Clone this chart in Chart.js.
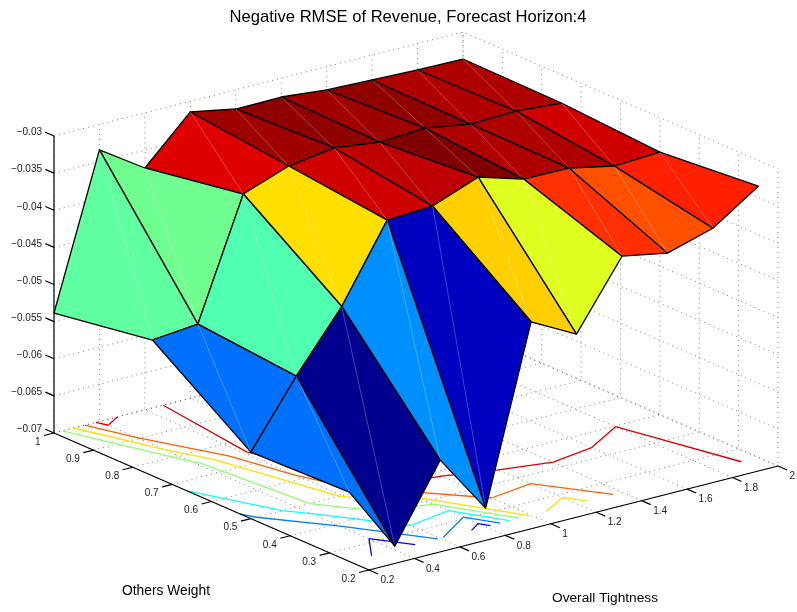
<!DOCTYPE html>
<html>
<head>
<meta charset="utf-8">
<title>Negative RMSE of Revenue</title>
<script src="https://cdn.jsdelivr.net/npm/chart.js@4/dist/chart.umd.js"></script>
<style>
  html, body { margin: 0; padding: 0; background: #fff; }
  canvas { display: block; }
</style>
</head>
<body>
<canvas id="chart" width="797" height="612"></canvas>
<script>
const chartTitle = 'Negative RMSE of Revenue, Forecast Horizon:4';
const xAxisLabel = 'Overall Tightness';
const yAxisLabel = 'Others Weight';

// surface grid
const overallTightness = [0.2, 0.4, 0.6, 0.8, 1, 1.2, 1.4, 1.6, 1.8, 2];
const othersWeight = [0.25, 0.5, 0.75, 1];
const rmseWeight025 = [-0.06067, -0.0695, -0.05947, -0.06749, -0.04395, -0.04717, -0.03823, -0.03937, -0.03757, -0.03347];
const rmseWeight050 = [-0.06104, -0.05236, -0.04455, -0.03446, -0.03413, -0.03179, -0.03361, -0.03369, -0.03497, -0.03465];
const rmseWeight075 = [-0.05171, -0.05112, -0.03516, -0.03295, -0.03207, -0.03283, -0.03251, -0.03352, -0.03333, -0.0338];
const rmseWeight100 = [-0.05384, -0.03343, -0.03742, -0.03143, -0.03259, -0.03253, -0.03314, -0.03335, -0.03356, -0.03364];
const rmseRows = [rmseWeight025, rmseWeight050, rmseWeight075, rmseWeight100];

// axes
const xTicks = [0.2, 0.4, 0.6, 0.8, 1, 1.2, 1.4, 1.6, 1.8, 2];
const yTicks = [0.2, 0.3, 0.4, 0.5, 0.6, 0.7, 0.8, 0.9, 1];
const zTicks = [-0.07, -0.065, -0.06, -0.055, -0.05, -0.045, -0.04, -0.035, -0.03];
const contourLevels = [-0.065, -0.06, -0.055, -0.05, -0.045, -0.04, -0.035];

const xMin = 0.2, xMax = 2, yMin = 0.2, yMax = 1, zMin = -0.07, zMax = -0.03;

// the view, orthographic: where the corner x=.2 y=.2 z=-.07 lands and how far each axis runs
function project(x, y, z) {
  const u = (x - xMin) / (xMax - xMin);
  const v = (y - yMin) / (yMax - yMin);
  const w = (z - zMin) / (zMax - zMin);
  return { x: 369 + u * 409 - v * 315, y: 570 - u * 104 - v * 137 - w * 297 };
}

const allZ = rmseRows.flat();
const cMin = Math.min(...allZ);
const cMax = Math.max(...allZ);

// matlab jet, 64 steps
function jet(z) {
  const i = Math.min(63, Math.floor((z - cMin) / (cMax - cMin) * 64));
  const t = (i + 1) / 64;
  const part = v => Math.round(255 * Math.max(0, Math.min(1, v)));
  const r = part(Math.min(4 * t - 1.5, -4 * t + 4.5));
  const g = part(Math.min(4 * t - 0.5, -4 * t + 3.5));
  const b = part(Math.min(4 * t + 0.5, -4 * t + 2.5));
  return `rgb(${r},${g},${b})`;
}

const datasets = [];

function addLine(points, color, width, dash) {
  datasets.push({
    data: points,
    showLine: true,
    fill: false,
    borderColor: color,
    borderWidth: width,
    borderDash: dash || [],
    pointRadius: 0,
    tension: 0
  });
}

// first dataset is painted last, so faces go nearest corner first
function addSurface() {
  for (let r = 0; r < othersWeight.length - 1; r++) {
    for (let c = 0; c < overallTightness.length - 1; c++) {
      const x0 = overallTightness[c], x1 = overallTightness[c + 1];
      const y0 = othersWeight[r], y1 = othersWeight[r + 1];
      const a = project(x0, y0, rmseRows[r][c]);
      const b = project(x1, y0, rmseRows[r][c + 1]);
      const d = project(x1, y1, rmseRows[r + 1][c + 1]);
      const e = project(x0, y1, rmseRows[r + 1][c]);
      // faint seam the renderer leaves across each quad
      addLine([a, d], 'rgba(255,255,255,0.26)', 1);
      datasets.push({
        data: [a, b, d, e, a],
        showLine: true,
        fill: 'shape',
        backgroundColor: jet(rmseRows[r][c]),
        borderColor: '#000',
        borderWidth: 1.3,
        borderJoinStyle: 'round',
        pointRadius: 0,
        tension: 0
      });
    }
  }
}

function addAxes() {
  const ink = '#000';
  addLine([project(xMin, yMin, zMin), project(xMax, yMin, zMin)], ink, 1.2);
  addLine([project(xMin, yMin, zMin), project(xMin, yMax, zMin)], ink, 1.2);
  addLine([project(xMin, yMax, zMin), project(xMin, yMax, zMax)], ink, 1.2);
  xTicks.forEach(x => addLine([project(x, yMin, zMin), project(x, yMin - 0.023, zMin)], ink, 1.2));
  yTicks.forEach(y => addLine([project(xMin, y, zMin), project(xMin - 0.044, y, zMin)], ink, 1.2));
  zTicks.forEach(z => addLine([project(xMin, yMax, z), project(xMin, yMax + 0.022, z)], ink, 1.2));
}

// marching squares on the floor plane, one dataset per level
function addContours() {
  const cross = (p, q, zp, zq, level) => {
    const s = (level - zp) / (zq - zp);
    return { x: p.x + (q.x - p.x) * s, y: p.y + (q.y - p.y) * s };
  };
  contourLevels.forEach(level => {
    const points = [];
    for (let r = 0; r < othersWeight.length - 1; r++) {
      for (let c = 0; c < overallTightness.length - 1; c++) {
        const corners = [
          { x: overallTightness[c], y: othersWeight[r], z: rmseRows[r][c] },
          { x: overallTightness[c + 1], y: othersWeight[r], z: rmseRows[r][c + 1] },
          { x: overallTightness[c + 1], y: othersWeight[r + 1], z: rmseRows[r + 1][c + 1] },
          { x: overallTightness[c], y: othersWeight[r + 1], z: rmseRows[r + 1][c] }
        ];
        const hits = [];
        for (let k = 0; k < 4; k++) {
          const p = corners[k], q = corners[(k + 1) % 4];
          if ((p.z < level) !== (q.z < level)) hits.push(cross(p, q, p.z, q.z, level));
        }
        for (let k = 0; k + 1 < hits.length; k += 2) {
          points.push(project(hits[k].x, hits[k].y, zMin), project(hits[k + 1].x, hits[k + 1].y, zMin), { x: NaN, y: NaN });
        }
      }
    }
    addLine(points, jet(level), 1.3);
  });
}

function addGrid() {
  const dotted = 'rgba(0,0,0,0.5)';
  const dash = [1, 4];
  xTicks.forEach(x => {
    addLine([project(x, yMin, zMin), project(x, yMax, zMin), project(x, yMax, zMax)], dotted, 1, dash);
  });
  yTicks.forEach(y => {
    addLine([project(xMin, y, zMin), project(xMax, y, zMin), project(xMax, y, zMax)], dotted, 1, dash);
  });
  zTicks.forEach(z => {
    addLine([project(xMin, yMax, z), project(xMax, yMax, z), project(xMax, yMin, z)], dotted, 1, dash);
  });
}

addSurface();
addAxes();
addContours();
addGrid();

const textLabels = {
  id: 'textLabels',
  afterDraw(chart) {
    const { ctx, scales } = chart;
    const put = (text, pos, dx, dy, align, font) => {
      ctx.font = font;
      ctx.textAlign = align;
      ctx.textBaseline = 'middle';
      ctx.fillText(text, scales.x.getPixelForValue(pos.x) + dx, scales.y.getPixelForValue(pos.y) + dy);
    };
    const tickFont = '10px "Liberation Sans"';
    ctx.save();
    ctx.fillStyle = '#1a1a1a';
    zTicks.forEach(z => put(String(z).replace('-', '\u2212'), project(xMin, yMax, z), -12, -3.5, 'right', tickFont));
    yTicks.forEach(y => put(String(y), project(xMin, y, zMin), -13.5, 9, 'right', tickFont));
    xTicks.forEach(x => put(String(x), project(x, yMin, zMin), 11.5, 10.5, 'left', tickFont));
    ctx.fillStyle = '#000';
    put(yAxisLabel, { x: 166, y: 591 }, 0, 0, 'center', '13.8px "Liberation Sans"');
    put(xAxisLabel, { x: 605, y: 598 }, 0, 0, 'center', '13.7px "Liberation Sans"');
    put(chartTitle, { x: 408, y: 17 }, 0, 0, 'center', '16.6px "Liberation Sans"');
    ctx.restore();
  }
};

new Chart(document.getElementById('chart'), {
  type: 'scatter',
  data: { datasets },
  options: {
    responsive: false,
    animation: false,
    layout: { padding: 0 },
    scales: {
      x: { type: 'linear', display: false, min: 0, max: 797 },
      y: { type: 'linear', display: false, min: 0, max: 612, reverse: true }
    },
    plugins: {
      legend: { display: false },
      tooltip: { enabled: false },
      title: { display: false }
    }
  },
  plugins: [textLabels]
});
</script>
</body>
</html>
